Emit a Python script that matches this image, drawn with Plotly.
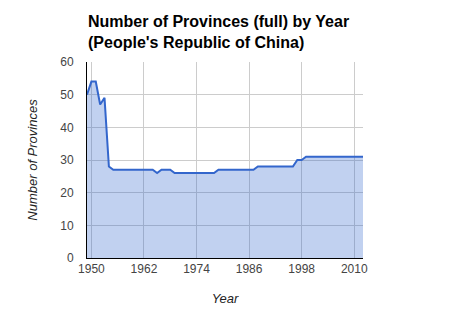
import plotly.graph_objects as go

years = list(range(1949, 2013))
provinces = (
    [50, 54, 54, 47, 49, 28]          # 1949-1954
    + [27] * 10                        # 1955-1964
    + [26]                             # 1965
    + [27, 27, 27]                     # 1966-1968
    + [26] * 10                        # 1969-1978
    + [27] * 9                         # 1979-1987
    + [28] * 9                         # 1988-1996
    + [30, 30]                         # 1997-1998
    + [31] * 14                        # 1999-2012
)
x_ticks = [1950, 1962, 1974, 1986, 1998, 2010]
y_ticks = [0, 10, 20, 30, 40, 50, 60]

title_lines = ["Number of Provinces (full) by Year", "(People's Republic of China)"]

fig = go.Figure()
fig.add_trace(go.Scatter(
    x=years, y=provinces, mode="lines",
    line=dict(color="#3366cc", width=2),
    fill="tozeroy", fillcolor="rgba(51,102,204,0.30)",
    hoverinfo="x+y",
))

font_family = "Arial, Liberation Sans, sans-serif"
fig.update_layout(
    width=450, height=320,
    margin=dict(l=87, r=87, t=62, b=62),
    paper_bgcolor="white", plot_bgcolor="white",
    font=dict(family=font_family, size=12, color="#444444"),
    showlegend=False,
    annotations=[dict(
        text="<b>" + "<br>".join(title_lines) + "</b>",
        font=dict(family=font_family, size=16, color="black"),
        xref="paper", yref="paper",
        x=0, xanchor="left", xshift=-1,
        y=1, yanchor="bottom", yshift=9,
        align="left", showarrow=False,
    )],
    xaxis=dict(
        range=[1949, 2012],
        tickvals=x_ticks, ticktext=[str(v) for v in x_ticks],
        showgrid=True, gridcolor="#cccccc", gridwidth=1,
        showline=True, linecolor="black", linewidth=1,
        zeroline=False, ticks="",
        tickfont=dict(size=12, color="#444444"),
        title=dict(text="<i>Year</i>", font=dict(size=13, color="#222222"), standoff=18),
    ),
    yaxis=dict(
        range=[0, 60],
        tickvals=y_ticks,
        showgrid=True, gridcolor="#cccccc", gridwidth=1,
        showline=True, linecolor="black", linewidth=1,
        zeroline=False, ticks="",
        ticklabelstandoff=10,
        tickfont=dict(size=12, color="#444444"),
        title=dict(text="<i>Number of Provinces</i>", font=dict(size=13, color="#222222"), standoff=19),
    ),
)

fig.write_html("out.html")
